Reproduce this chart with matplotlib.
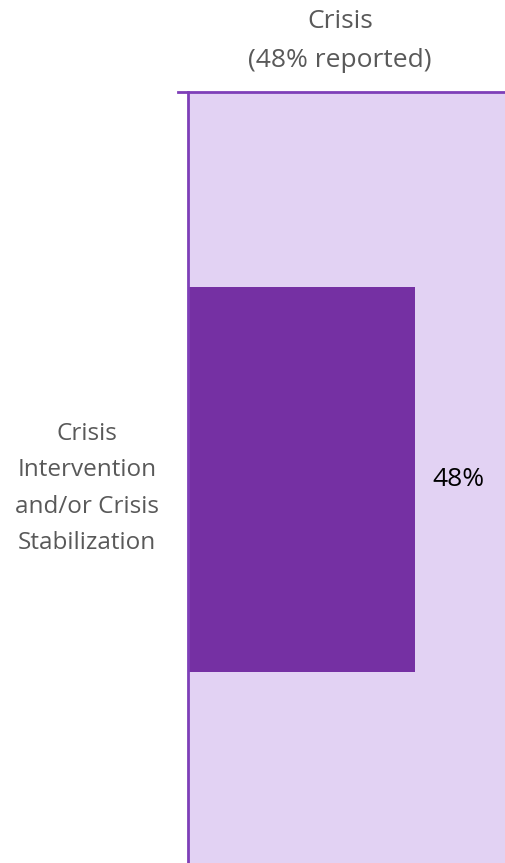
import matplotlib
matplotlib.use("Agg")
import matplotlib.pyplot as plt
from matplotlib.lines import Line2D
from matplotlib.transforms import ScaledTranslation

categories = ["Crisis\nIntervention\nand/or Crisis\nStabilization"]
values = [48]
value_labels = ["48%"]
header = "Crisis\n(48% reported)"
x_max = 67.2

plt.rcParams["font.family"] = ["Open Sans", "DejaVu Sans"]

W, H = 506, 863
fig = plt.figure(figsize=(W / 100, H / 100), dpi=100)
ax = fig.add_axes([188 / W, 0, (W - 188) / W, (H - 92) / H])

ax.set_facecolor("#E2D2F3")
ax.barh([0], values, height=1.0, color="#7530A3", zorder=2)
ax.set_xlim(0, x_max)
ax.set_ylim(-0.995, 1.005)

for v, lab in zip(values, value_labels):
    ax.text(v + 3.6, 0, lab, va="center", ha="left", fontsize=19, color="#000000")

ax.set_xticks([])
ax.set_yticks([0])
ax.set_yticklabels(categories, fontsize=17.5, color="#595959", linespacing=1.68)
ax.tick_params(axis="y", length=0, pad=0)
for lbl in ax.get_yticklabels():
    lbl.set_ha("center")
    lbl.set_transform(ax.get_yaxis_transform()
                      + ScaledTranslation(-(188 - 87) / 100, 0, fig.dpi_scale_trans))

for s in ["right", "bottom", "top"]:
    ax.spines[s].set_visible(False)
ax.spines["left"].set_color("#7E3FB8")
ax.spines["left"].set_linewidth(2)

ax.add_line(Line2D([-10 / (W - 188), 1], [1, 1], transform=ax.transAxes,
                   color="#7E3FB8", linewidth=2, clip_on=False))

fig.text(340 / W, 1 - 41 / H, header, ha="center", va="center", fontsize=19,
         color="#595959", linespacing=1.75)

fig.savefig("out.png", dpi=100)
